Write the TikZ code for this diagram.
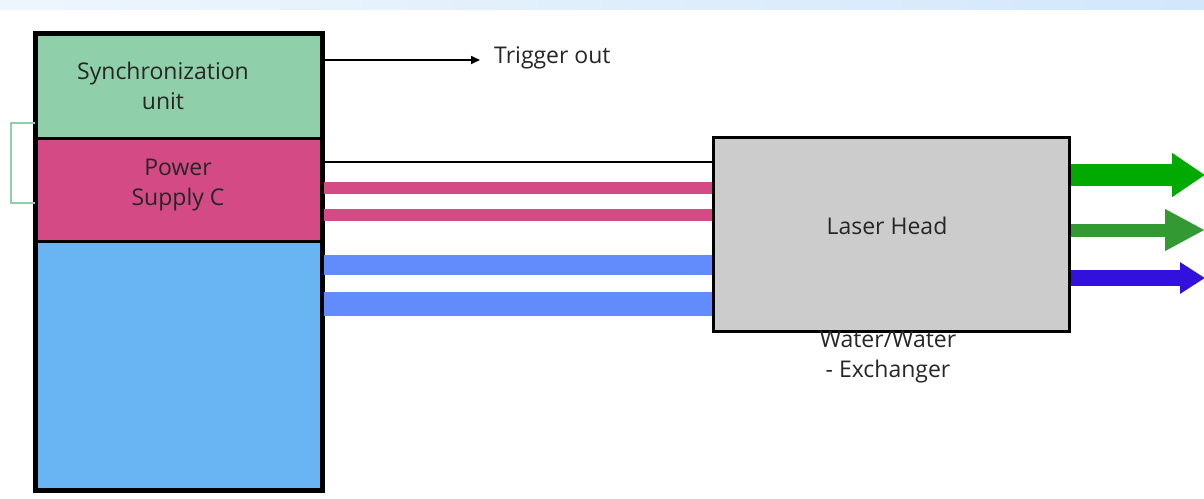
\documentclass[tikz,border=0pt]{standalone}
\usepackage{fontspec}
\setmainfont{Open Sans}
\usetikzlibrary{arrows.meta}
\definecolor{syncgreen}{HTML}{8FCFAA}
\definecolor{pspink}{HTML}{D34A84}
\definecolor{coolblue}{HTML}{69B4F2}
\definecolor{barblue}{HTML}{628CFC}
\definecolor{headgray}{HTML}{CCCCCC}
\definecolor{beamA}{HTML}{00AA00}
\definecolor{beamB}{HTML}{339933}
\definecolor{beamC}{HTML}{3311DD}
\definecolor{stripL}{HTML}{EEF6FD}
\definecolor{stripR}{HTML}{D2E7FB}
\tikzset{
  unitbox/.style={draw=black, line width=3pt, anchor=north west, inner sep=0pt},
  lbl/.style={font=\fontsize{23}{30}\selectfont, align=center, inner sep=0pt, text=black!85}
}
\begin{document}
\begin{tikzpicture}[x=1pt,y=-1pt]
\useasboundingbox (0,0) rectangle (1204,498);
\shade[left color=stripL, right color=stripR] (0,0) rectangle (1204,9);
% left stack
\node[unitbox, fill=syncgreen, minimum width=285pt, minimum height=104pt] (sync) at (35,33) {};
\node[unitbox, fill=pspink, minimum width=285pt, minimum height=103pt] (ps) at (35,137) {};
\node[unitbox, fill=coolblue, minimum width=285pt, minimum height=248pt] (cool) at (35,240) {};
\draw[line width=4pt] (sync.north west) rectangle (cool.south east);
\node[lbl] at (163,86) {Synchronization\\unit};
\node[lbl] at (178,185) {Power\\Supply C};
% bracket
\coordinate (b1) at (11,123);
\coordinate (b2) at (11,203);
\draw[syncgreen, line width=2.5pt] (sync.west |- b1) -- (b1) -- (b2) -- (ps.west |- b2);
% laser head
\node[draw=black, line width=3pt, fill=headgray, minimum width=356pt, minimum height=194pt, anchor=north west, inner sep=0pt] (head) at (712,136) {};
\node[lbl] at (887,226) {Laser Head};
\node[lbl] at (888,357) {Water/Water\\- Exchanger};
% trigger
\coordinate (trig) at (480,60);
\draw[line width=1.6pt, -{Triangle[length=9pt,width=8pt]}] (sync.east |- trig) -- (trig);
\node[lbl, anchor=west] at (494,58) {Trigger out};
% connections
\coordinate (c0) at (0,162);
\coordinate (c1) at (0,188);
\coordinate (c2) at (0,215);
\coordinate (c3) at (0,265);
\coordinate (c4) at (0,304);
\draw[line width=2.5pt] (ps.east |- c0) -- (head.west |- c0);
\draw[draw=pspink, line width=12pt] ([xshift=1pt]ps.east |- c1) -- (head.west |- c1);
\draw[draw=pspink, line width=12pt] ([xshift=1pt]ps.east |- c2) -- (head.west |- c2);
\draw[draw=barblue, line width=20pt] ([xshift=1pt]cool.east |- c3) -- (head.west |- c3);
\draw[draw=barblue, line width=24pt] ([xshift=1pt]cool.east |- c4) -- (head.west |- c4);
% beams
\coordinate (o1) at (1205,175);
\coordinate (o2) at (1205,230);
\coordinate (o3) at (1205,278);
\draw[beamA, line width=22pt, -{Triangle[length=33pt,width=42pt]}] (head.east |- o1) -- (o1);
\draw[beamB, line width=13pt, -{Triangle[length=40pt,width=39pt]}] (head.east |- o2) -- (o2);
\draw[beamC, line width=16pt, -{Triangle[length=25pt,width=30pt]}] (head.east |- o3) -- (o3);
\end{tikzpicture}
\end{document}
